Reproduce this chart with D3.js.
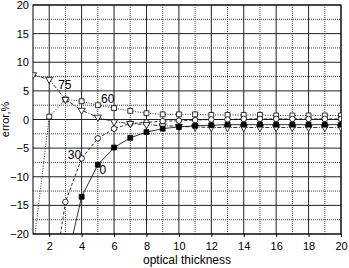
<!DOCTYPE html>
<html>
<head>
<meta charset="utf-8">
<script src="https://cdn.jsdelivr.net/npm/d3@7"></script>
<style>
  body { margin: 0; background: #fff; }
  text { font-family: "Liberation Sans", Arial, sans-serif; fill: #000; }
</style>
</head>
<body>
<script>
/* DATA */
var xTicks = [2, 4, 6, 8, 10, 12, 14, 16, 18, 20];
var yTicks = [-20, -15, -10, -5, 0, 5, 10, 15, 20];

var x0 = [3, 4, 5, 6, 7, 8, 9, 10, 11, 12, 13, 14, 15, 16, 17, 18, 19, 20];
var s0 = [-25.8, -13.5, -7.9, -4.9, -3.2, -2.2, -1.6, -1.3, -1.1, -1.0, -0.9, -0.9, -0.9, -0.9, -0.9, -0.9, -0.9, -0.9];

var x30 = [2, 3, 4, 5, 6, 7, 8, 9, 10, 11, 12, 13, 14, 15, 16, 17, 18, 19, 20];
var s30 = [-33, -14.4, -6.8, -3.3, -1.6, -0.7, -0.5, -0.3, -0.2, -0.1, 0, 0, 0.1, 0.1, 0.1, 0.1, 0.1, 0.1, 0.1];

var x60 = [1, 2, 3, 4, 5, 6, 7, 8, 9, 10, 11, 12, 13, 14, 15, 16, 17, 18, 19, 20];
var s60 = [-23, 0.5, 3.5, 3.2, 2.5, 2.0, 1.5, 1.1, 0.9, 0.9, 0.9, 0.8, 0.8, 0.8, 0.8, 0.7, 0.7, 0.7, 0.7, 0.7];

var x75 = [1, 2, 3, 4, 5, 6, 7, 8, 9, 10, 11, 12, 13, 14, 15, 16, 17, 18, 19, 20];
var s75 = [7.8, 7.0, 3.5, 1.6, 0.4, -0.4, -0.7, -0.9, -1.1, -1.2, -1.3, -1.4, -1.4, -1.4, -1.4, -1.4, -1.4, -1.4, -1.4, -1.4];

var seriesLabels = [
  {text: "75", xv: 2.55, yv: 5.3},
  {text: "60", xv: 5.2, yv: 2.9},
  {text: "30", xv: 3.15, yv: -6.9},
  {text: "0", xv: 5.1, yv: -9.6}
];

var margin = {top: 5, right: 8, bottom: 34, left: 33},
    width = 341 - margin.left,
    height = 234 - margin.top;

var x = d3.scaleLinear().domain([1, 20]).range([0, width]);
var y = d3.scaleLinear().domain([-20, 20]).range([height, 0]);

var svg = d3.select("body").append("svg")
    .attr("width", 349)
    .attr("height", 268)
  .append("g")
    .attr("transform", "translate(" + margin.left + "," + margin.top + ")");

// grid: minor dotted, major solid
var minorX = d3.range(3, 20, 2);
var minorY = d3.range(-17.5, 20, 5);
svg.selectAll(".gxm").data(minorX).enter().append("line")
  .attr("x1", d => x(d)).attr("x2", d => x(d))
  .attr("y1", 0).attr("y2", height)
  .attr("stroke", "#444").attr("stroke-width", 1).attr("stroke-dasharray", "1,1");
svg.selectAll(".gym").data(minorY).enter().append("line")
  .attr("x1", 0).attr("x2", width)
  .attr("y1", d => y(d)).attr("y2", d => y(d))
  .attr("stroke", "#444").attr("stroke-width", 1).attr("stroke-dasharray", "1,1");
svg.selectAll(".gx").data(xTicks).enter().append("line")
  .attr("x1", d => x(d)).attr("x2", d => x(d))
  .attr("y1", 0).attr("y2", height)
  .attr("stroke", "#222").attr("stroke-width", 1);
svg.selectAll(".gy").data(yTicks).enter().append("line")
  .attr("x1", 0).attr("x2", width)
  .attr("y1", d => y(d)).attr("y2", d => y(d))
  .attr("stroke", "#222").attr("stroke-width", 1);

// frame
svg.append("rect").attr("width", width).attr("height", height)
  .attr("fill", "none").attr("stroke", "#000").attr("stroke-width", 1);

// axes
var xAxis = svg.append("g")
  .attr("transform", "translate(0," + height + ")")
  .call(d3.axisBottom(x).tickValues(xTicks).tickSize(3).tickPadding(5));
xAxis.select(".domain").remove();
xAxis.selectAll("text").style("font-size", "11px").style("font-family", "Liberation Sans, Arial, sans-serif");

var yAxis = svg.append("g")
  .call(d3.axisLeft(y).tickValues(yTicks).tickSize(0).tickPadding(4));
yAxis.select(".domain").remove();
yAxis.selectAll("text").style("font-size", "11px").style("font-family", "Liberation Sans, Arial, sans-serif");

// clip
svg.append("clipPath").attr("id", "clip")
  .append("rect").attr("width", width).attr("height", height);
var plot = svg.append("g").attr("clip-path", "url(#clip)");

var line = d3.line().x(d => x(d[0])).y(d => y(d[1]));

function drawSeries(xs, ys, dash, shape) {
  var pts = xs.map((d, i) => [d, ys[i]]);
  plot.append("path").datum(pts)
    .attr("d", line).attr("fill", "none")
    .attr("stroke", "#000").attr("stroke-width", 0.8)
    .attr("stroke-dasharray", dash);
  var sym = d3.symbol().size(shape.size).type(shape.type);
  plot.selectAll(null).data(pts).enter().append("path")
    .attr("d", sym)
    .attr("transform", d => "translate(" + x(d[0]) + "," + y(d[1]) + ")" + (shape.rot ? " rotate(180)" : ""))
    .attr("fill", shape.fill).attr("stroke", "#000").attr("stroke-width", 0.8);
}

drawSeries(x60, s60, "1,1.5", {type: d3.symbolSquare, size: 24, fill: "#fff"});
drawSeries(x30, s30, "3,2", {type: d3.symbolCircle, size: 24, fill: "#fff"});
drawSeries(x75, s75, "4,1.5,1,1.5", {type: d3.symbolTriangle, size: 22, fill: "#fff", rot: true});
drawSeries(x0, s0, null, {type: d3.symbolSquare, size: 24, fill: "#000"});

// series labels
svg.selectAll(".sl").data(seriesLabels).enter().append("text")
  .attr("x", d => x(d.xv)).attr("y", d => y(d.yv))
  .style("font-size", "12px")
  .style("fill", "#000")
  .text(d => d.text);

// axis titles
svg.append("text")
  .attr("transform", "rotate(-90)")
  .attr("x", -y(0))
  .attr("y", -24)
  .style("text-anchor", "middle")
  .style("font-size", "11px")
  .text("error,%");

svg.append("text")
  .attr("x", x(10.5))
  .attr("y", height + 30)
  .style("text-anchor", "middle")
  .style("font-size", "12px")
  .text("optical thickness");
</script>
</body>
</html>
